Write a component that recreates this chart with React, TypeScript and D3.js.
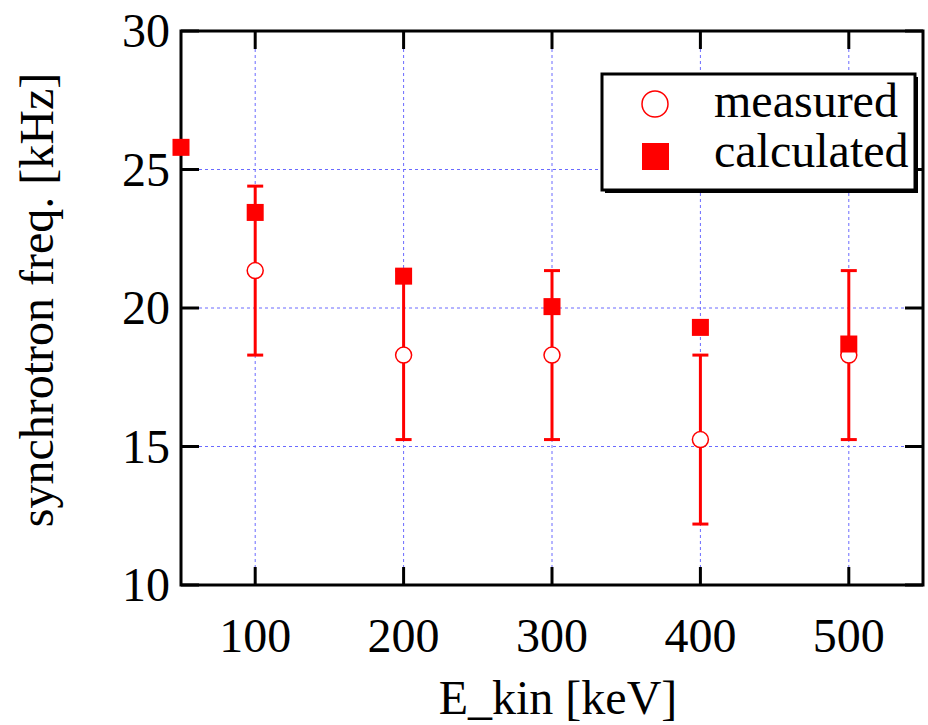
import React from "react";
import * as d3 from "d3";

const energies = [100, 200, 300, 400, 500];
const measured = [21.35, 18.3, 18.3, 15.25, 18.3];
const errLow = [18.3, 15.25, 15.25, 12.2, 15.25];
const errHigh = [24.4, 21.35, 21.35, 18.3, 21.35];
const calcEnergies = [50, 100, 200, 300, 400, 500];
const calculated = [25.8, 23.45, 21.15, 20.05, 19.3, 18.7];
const xTicks = [100, 200, 300, 400, 500];
const yTicks = [10, 15, 20, 25, 30];
const yGrid = [15, 20, 25];

export default function App() {
  const W = 928, H = 725;
  const L = 181, R = 923, T = 31, B = 585;
  const x = d3.scaleLinear().domain([50, 550]).range([L, R]);
  const y = d3.scaleLinear().domain([10, 30]).range([B, T]);
  const red = "#ff0000";
  const font = "'Liberation Serif', 'Times New Roman', serif";
  const tickLen = 18;
  return (
    <svg width={W} height={H} style={{ position: "absolute", left: 0, top: 0 }}>
      <rect x={0} y={0} width={W} height={H} fill="#fff" />
      {/* grid */}
      {xTicks.map((t) => (
        <line key={"gx" + t} x1={x(t)} x2={x(t)} y1={T} y2={B} stroke="#6a6aff" strokeWidth={1} strokeDasharray="3,3" />
      ))}
      {yGrid.map((t) => (
        <line key={"gy" + t} x1={L} x2={R} y1={y(t)} y2={y(t)} stroke="#6a6aff" strokeWidth={1} strokeDasharray="3,3" />
      ))}
      {/* ticks */}
      {xTicks.map((t) => (
        <g key={"tx" + t}>
          <line x1={x(t)} x2={x(t)} y1={B} y2={B - tickLen} stroke="#000" strokeWidth={3} />
          <line x1={x(t)} x2={x(t)} y1={T} y2={T + tickLen} stroke="#000" strokeWidth={3} />
          <text x={x(t)} y={652} textAnchor="middle" fontFamily={font} fontSize={48}>{t}</text>
        </g>
      ))}
      {yTicks.map((t) => (
        <g key={"ty" + t}>
          <line x1={L} x2={L + tickLen} y1={y(t)} y2={y(t)} stroke="#000" strokeWidth={3} />
          <line x1={R} x2={R - tickLen} y1={y(t)} y2={y(t)} stroke="#000" strokeWidth={3} />
          <text x={170} y={y(t)} dy="0.34em" textAnchor="end" fontFamily={font} fontSize={48}>{t}</text>
        </g>
      ))}
      {/* frame */}
      <rect x={L} y={T} width={R - L} height={B - T} fill="none" stroke="#000" strokeWidth={3} />
      {/* error bars */}
      {energies.map((e, i) => (
        <g key={"eb" + e} stroke={red} strokeWidth={3}>
          <line x1={x(e)} x2={x(e)} y1={y(errLow[i])} y2={y(errHigh[i])} />
          <line x1={x(e) - 8} x2={x(e) + 8} y1={y(errLow[i])} y2={y(errLow[i])} />
          <line x1={x(e) - 8} x2={x(e) + 8} y1={y(errHigh[i])} y2={y(errHigh[i])} />
        </g>
      ))}
      {/* measured */}
      {energies.map((e, i) => (
        <circle key={"m" + e} cx={x(e)} cy={y(measured[i])} r={8} fill="#fff" stroke={red} strokeWidth={1.5} />
      ))}
      {/* calculated */}
      {calcEnergies.map((e, i) => (
        <rect key={"c" + e} x={x(e) - 8.5} y={y(calculated[i]) - 8.5} width={17} height={17} fill={red} />
      ))}
      {/* legend */}
      <rect x={605} y={77} width={313} height={116} fill="#000" />
      <rect x={602} y={74} width={313} height={116} fill="#fff" stroke="#000" strokeWidth={3} />
      <circle cx={655} cy={104} r={13} fill="#fff" stroke={red} strokeWidth={1.5} />
      <rect x={642} y={143} width={27} height={27} fill={red} />
      <text x={714} y={117} fontFamily={font} fontSize={48}>measured</text>
      <text x={714} y={167} fontFamily={font} fontSize={48}>calculated</text>
      {/* axis titles */}
      <text x={558} y={714} textAnchor="middle" fontFamily={font} fontSize={48}>E_kin [keV]</text>
      <text transform={`translate(53,${(T + B) / 2 - 8}) rotate(-90)`} textAnchor="middle" fontFamily={font} fontSize={48}>synchrotron freq. [kHz]</text>
    </svg>
  );
}
